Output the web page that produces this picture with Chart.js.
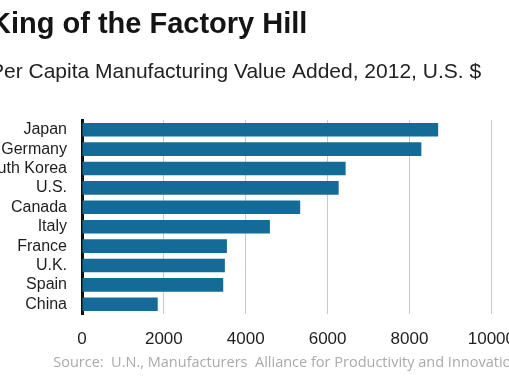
<!DOCTYPE html>
<html>
<head>
<meta charset="utf-8">
<script src="https://cdn.jsdelivr.net/npm/chart.js@4"></script>
<style>
    html, body {
        margin: 0;
        padding: 0;
        width: 509px;
        height: 377px;
        overflow: hidden;
        background: #ffffff;
    }
    #wrap {
        position: absolute;
        left: -30px;
        top: 0;
        width: 560px;
        height: 377px;
    }
</style>
</head>
<body>
<div id="wrap">
    <canvas id="myChart" width="560" height="377"></canvas>
</div>
<script>
const countries = ["Japan", "Germany", "South Korea", "U.S.", "Canada", "Italy", "France", "U.K.", "Spain", "China"];
const valueAdded = [8700, 8290, 6440, 6270, 5330, 4590, 3540, 3490, 3450, 1850];
const xTicks = [0, 2000, 4000, 6000, 8000, 10000];

const titleText = "King of the Factory Hill";
const subtitleText = "Per Capita Manufacturing Value Added, 2012, U.S. $";
const sourceText = "Source:  U.N., Manufacturers  Alliance for Productivity and Innovation";

const myChart = document.getElementById("myChart");
const baseFont = "'Liberation Sans', Arial, sans-serif";
const sourceFont = "14.5px 'Open Sans', sans-serif";

// the scale title squeezes its text into the plot width, so the source line is drawn here
const sourceLine = {
    id: "sourceLine",
    afterDraw(chart) {
        const ctx = chart.ctx;
        const area = chart.chartArea;
        ctx.save();
        ctx.font = sourceFont;
        ctx.fillStyle = "#aaaaaa";
        ctx.textAlign = "center";
        ctx.textBaseline = "middle";
        ctx.fillText(sourceText, (area.left + area.right) / 2, chart.height - 14);
        ctx.restore();
    },
};

const data = {
    labels: countries,
    datasets: [
        {
            label: "Value added",
            data: valueAdded,
            backgroundColor: "#156b98",
            barPercentage: 0.7,
            categoryPercentage: 1,
        },
    ],
};

const config = {
    type: "bar",
    data,
    plugins: [sourceLine],
    options: {
        indexAxis: "y",
        responsive: false,
        animation: false,
        layout: {
            padding: { left: 20, right: 29, top: 0, bottom: 4 },
        },
        plugins: {
            legend: { display: false },
            tooltip: { enabled: false },
            title: {
                display: true,
                text: titleText,
                align: "start",
                color: "#141414",
                font: { family: baseFont, size: 29, weight: "bold" },
                padding: { top: 8, bottom: 3 },
            },
            subtitle: {
                display: true,
                text: subtitleText,
                align: "start",
                color: "#222222",
                font: { family: baseFont, size: 21 },
                padding: { top: 14, bottom: 35 },
            },
        },
        scales: {
            x: {
                min: xTicks[0],
                max: xTicks[xTicks.length - 1],
                afterBuildTicks: (scale) => {
                    scale.ticks = xTicks.map((v) => ({ value: v }));
                },
                afterFit: (scale) => {
                    scale.height = 59;
                },
                ticks: {
                    color: "#1e1e1e",
                    padding: 15,
                    font: { family: baseFont, size: 17 },
                    callback: (value) => String(value),
                },
                grid: {
                    color: "#c9c9c9",
                    lineWidth: 1,
                    drawTicks: false,
                },
                border: { display: false },
            },
            y: {
                afterFit: (scale) => {
                    scale.width = 92;
                },
                ticks: {
                    color: "#1e1e1e",
                    padding: 15,
                    autoSkip: false,
                    font: { family: baseFont, size: 16 },
                },
                grid: { display: false, drawTicks: false },
                border: { display: true, color: "#111111", width: 3 },
            },
        },
    },
};

// wait for the fonts, otherwise the canvas uses a fallback face
Promise.all([
    document.fonts.load(sourceFont),
    document.fonts.load("bold 29px 'Liberation Sans'"),
    document.fonts.load("17px 'Liberation Sans'"),
]).finally(() => {
    new Chart(myChart, config);
});
</script>
</body>
</html>
